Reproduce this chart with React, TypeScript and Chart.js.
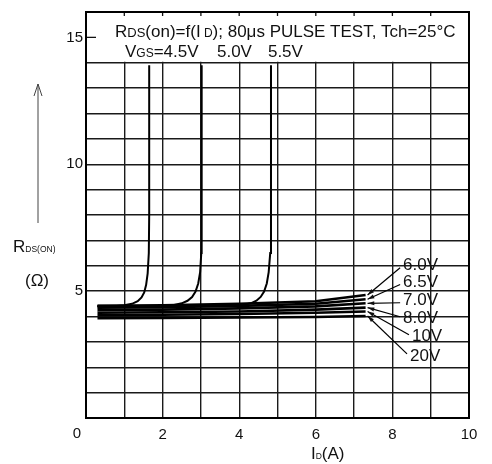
import React, { useEffect, useRef } from "react";
import { Chart, registerables } from "chart.js";
Chart.register(...registerables);

// ---- data ----
const xTickValues = [2, 4, 6, 8, 10];
const yTickValues = [5, 10, 15];

const id45 = [0.3, 0.8, 1.0, 1.2, 1.35, 1.45, 1.52, 1.57, 1.61, 1.64, 1.65, 1.65];
const r45 = [4.42, 4.42, 4.44, 4.5, 4.6, 4.75, 4.95, 5.25, 5.7, 6.5, 8, 13.9];
const id50 = [0.3, 2.0, 2.3, 2.5, 2.65, 2.77, 2.86, 2.93, 2.98, 3.01, 3.02, 3.02];
const r50 = [4.4, 4.41, 4.45, 4.52, 4.62, 4.77, 4.98, 5.3, 5.75, 6.5, 8, 13.9];
const id55 = [0.3, 3.8, 4.1, 4.3, 4.45, 4.56, 4.65, 4.72, 4.77, 4.81, 4.83, 4.83];
const r55 = [4.4, 4.41, 4.45, 4.52, 4.62, 4.77, 4.98, 5.3, 5.75, 6.5, 8, 13.9];

const bundleIds = [0.3, 2, 4, 6, 7.3];
const r60 = [4.42, 4.44, 4.5, 4.6, 4.85];
const r65 = [4.35, 4.37, 4.42, 4.5, 4.68];
const r70 = [4.25, 4.27, 4.32, 4.4, 4.52];
const r80 = [4.15, 4.17, 4.2, 4.27, 4.35];
const r10 = [4.05, 4.07, 4.1, 4.15, 4.2];
const r20 = [3.93, 3.94, 3.96, 3.98, 4.02];

const bundleLabels = ["6.0V", "6.5V", "7.0V", "8.0V", "10V", "20V"];
const bundleLabelId = [8.28, 8.28, 8.28, 8.28, 8.51, 8.46];
const bundleLabelR = [6.0, 5.34, 4.62, 3.91, 3.2, 2.45];

const lowVgsLabels = ["4.5V", "5.0V", "5.5V"];
const lowVgsLabelId = [0.0, 3.42, 4.75];

const FONT = '"Liberation Sans", Arial, sans-serif';

const toPts = (xs: number[], ys: number[]) => xs.map((x, i) => ({ x, y: ys[i] }));

export default function App() {
  const ref = useRef<HTMLCanvasElement | null>(null);

  useEffect(() => {
    const canvas = ref.current;
    if (!canvas) return;

    const series = [
      toPts(id45, r45),
      toPts(id50, r50),
      toPts(id55, r55),
      toPts(bundleIds, r60),
      toPts(bundleIds, r65),
      toPts(bundleIds, r70),
      toPts(bundleIds, r80),
      toPts(bundleIds, r10),
      toPts(bundleIds, r20),
    ];

    const drawSegs = (
      ctx: CanvasRenderingContext2D,
      x: number,
      y: number,
      segs: [string, number, number][]
    ) => {
      let cx = x;
      for (const [t, size, dy] of segs) {
        ctx.font = `${size}px ${FONT}`;
        ctx.fillText(t, cx, y + dy);
        cx += ctx.measureText(t).width;
      }
      return cx;
    };

    const annot = {
      id: "annot",
      afterDraw(chart: any) {
        const ctx: CanvasRenderingContext2D = chart.ctx;
        const { left, right, top, bottom } = chart.chartArea;
        const xs = chart.scales.x;
        const ys = chart.scales.y;
        ctx.save();
        // blank band at top for the condition text
        const y14 = ys.getPixelForValue(14);
        ctx.fillStyle = "#fff";
        ctx.fillRect(left + 1, top + 1, right - left - 2, y14 - top - 2);
        // small ticks at top border
        ctx.strokeStyle = "#111";
        ctx.lineWidth = 1.3;
        for (let v = 1; v < 10; v++) {
          const px = xs.getPixelForValue(v);
          ctx.beginPath();
          ctx.moveTo(px, top);
          ctx.lineTo(px, top + 4);
          ctx.stroke();
        }
        // dash at 15
        const y15 = ys.getPixelForValue(15);
        ctx.beginPath();
        ctx.moveTo(left, y15);
        ctx.lineTo(left + 10, y15);
        ctx.stroke();
        // frame
        ctx.lineWidth = 2;
        ctx.strokeStyle = "#000";
        ctx.strokeRect(left, top, right - left, bottom - top);

        ctx.fillStyle = "#111";
        ctx.textBaseline = "alphabetic";
        ctx.textAlign = "left";
        // condition text line 1
        drawSegs(ctx, 115, 37, [
          ["R", 17, 0],
          ["DS", 13, 0],
          ["(on)=f(I", 17, 0],
          [" D", 12, 0],
          ["); 80μs PULSE TEST, Tch=25°C", 17, 0],
        ]);
        // line 2: VGS labels
        const end = drawSegs(ctx, 125, 57, [
          ["V", 17, 0],
          ["GS", 12, 0],
          ["=", 17, 0],
        ]);
        ctx.font = `17px ${FONT}`;
        lowVgsLabels.forEach((t, i) => {
          const px = i === 0 ? end : xs.getPixelForValue(lowVgsLabelId[i]);
          ctx.fillText(t, px, 57);
        });

        // bundle labels with leaders
        const bundleEnds = [r60, r65, r70, r80, r10, r20];
        ctx.textBaseline = "middle";
        ctx.font = `17px ${FONT}`;
        bundleLabels.forEach((t, i) => {
          const lx = xs.getPixelForValue(bundleLabelId[i]);
          const ly = ys.getPixelForValue(bundleLabelR[i]);
          ctx.fillText(t, lx, ly);
          const ex = xs.getPixelForValue(bundleIds[bundleIds.length - 1]) + 2;
          const ey = ys.getPixelForValue(bundleEnds[i][bundleEnds[i].length - 1]);
          const sx = lx - 3;
          const sy = ly + (i < 3 ? 2 : -2);
          ctx.lineWidth = 1.2;
          ctx.beginPath();
          ctx.moveTo(sx, sy);
          ctx.lineTo(ex, ey);
          ctx.stroke();
          // arrowhead
          const ang = Math.atan2(ey - sy, ex - sx);
          ctx.beginPath();
          ctx.moveTo(ex, ey);
          ctx.lineTo(ex - 7 * Math.cos(ang - 0.3), ey - 7 * Math.sin(ang - 0.3));
          ctx.lineTo(ex - 7 * Math.cos(ang + 0.3), ey - 7 * Math.sin(ang + 0.3));
          ctx.closePath();
          ctx.fill();
        });

        // y-axis title with arrow
        ctx.strokeStyle = "#444";
        ctx.lineWidth = 1;
        ctx.beginPath();
        ctx.moveTo(38, 223);
        ctx.lineTo(38, 84);
        ctx.moveTo(34, 96);
        ctx.lineTo(38, 84);
        ctx.lineTo(42, 96);
        ctx.stroke();
        ctx.textBaseline = "alphabetic";
        drawSegs(ctx, 13, 252, [
          ["R", 17, 0],
          ["DS(ON)", 8.5, 0],
        ]);
        ctx.font = `17px ${FONT}`;
        ctx.textAlign = "center";
        ctx.fillText("(Ω)", 37, 286);

        // origin label
        ctx.font = `15px ${FONT}`;
        ctx.textBaseline = "middle";
        ctx.fillText("0", left - 9, bottom + 16);

        // x-axis title
        ctx.textAlign = "left";
        ctx.textBaseline = "alphabetic";
        drawSegs(ctx, 311, 459, [
          ["I", 17, 0],
          ["D", 8.5, 0],
          ["(A)", 17, 0],
        ]);
        ctx.restore();
      },
    };

    const chart = new Chart(canvas, {
      type: "scatter",
      data: {
        datasets: series.map((d, i) => ({
          data: d,
          showLine: true,
          borderColor: "#000",
          borderWidth: i < 3 ? 2 : 2.6,
          pointRadius: 0,
          tension: 0,
          fill: false,
        })),
      },
      options: {
        responsive: false,
        animation: false,
        events: [],
        layout: { padding: { top: 12, right: 23, left: 0, bottom: 0 } },
        plugins: { legend: { display: false }, tooltip: { enabled: false } },
        scales: {
          x: {
            type: "linear",
            min: 0,
            max: 10,
            afterFit: (s: any) => {
              s.height = 46;
            },
            afterBuildTicks: (s: any) => {
              s.ticks = Array.from({ length: 11 }, (_, i) => ({ value: i }));
            },
            ticks: {
              autoSkip: false,
              maxRotation: 0,
              padding: 8,
              color: "#111",
              font: { family: FONT, size: 15 },
              callback: (v: any) => (xTickValues.includes(Number(v)) ? String(v) : ""),
            },
            grid: { color: "#1a1a1a", lineWidth: 1.4, drawTicks: false },
            border: { display: true, color: "#000", width: 2 },
          },
          y: {
            type: "linear",
            min: 0,
            max: 16,
            afterFit: (s: any) => {
              s.width = 86;
            },
            afterBuildTicks: (s: any) => {
              s.ticks = Array.from({ length: 17 }, (_, i) => ({ value: i }));
            },
            ticks: {
              autoSkip: false,
              padding: 3,
              color: "#111",
              font: { family: FONT, size: 15 },
              callback: (v: any) => (yTickValues.includes(Number(v)) ? String(v) : ""),
            },
            grid: { color: "#1a1a1a", lineWidth: 1.4, drawTicks: false },
            border: { display: true, color: "#000", width: 2 },
          },
        },
      },
      plugins: [annot],
    } as any);

    return () => chart.destroy();
  }, []);

  return (
    <div style={{ position: "fixed", left: 0, top: 0, width: 492, height: 464, background: "#fff" }}>
      <canvas ref={ref} width={492} height={464} style={{ width: 492, height: 464, display: "block" }} />
    </div>
  );
}
